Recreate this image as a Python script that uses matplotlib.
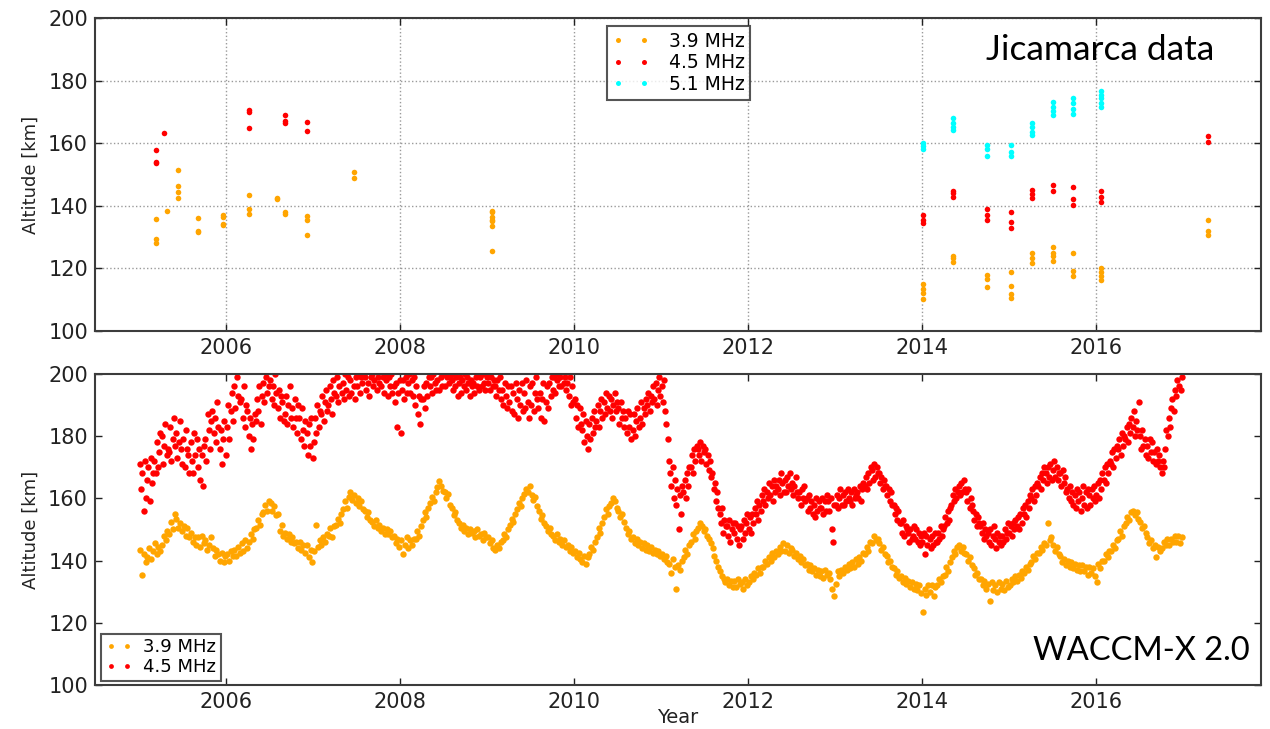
import numpy as np
import matplotlib.pyplot as plt

# ---- Jicamarca campaign estimates (decimal year, altitude in km) ----
jro39_year = [2005.19, 2005.19, 2005.19, 2005.32, 2005.44, 2005.44, 2005.44, 2005.44,
              2005.68, 2005.68, 2005.68, 2005.96, 2005.96, 2005.96, 2005.96,
              2006.26, 2006.26, 2006.26, 2006.58, 2006.58, 2006.68, 2006.68,
              2006.93, 2006.93, 2006.93, 2007.47, 2007.47,
              2009.06, 2009.06, 2009.06, 2009.06, 2009.06, 2009.06, 2009.06,
              2014.01, 2014.01, 2014.01, 2014.01, 2014.36, 2014.36, 2014.36,
              2014.75, 2014.75, 2014.75, 2015.02, 2015.02, 2015.02, 2015.02,
              2015.27, 2015.27, 2015.27, 2015.51, 2015.51, 2015.51, 2015.51,
              2015.74, 2015.74, 2015.74, 2016.06, 2016.06, 2016.06, 2016.06,
              2017.29, 2017.29, 2017.29]
jro39_alt = [135.8, 129.3, 128.2, 138.4, 151.3, 146.3, 144.3, 142.4,
             136.1, 131.9, 131.5, 136.9, 136.4, 134.1, 133.9,
             143.4, 139.1, 137.3, 142.6, 142.1, 138.1, 137.3,
             136.7, 135.4, 130.7, 150.8, 148.8,
             138.2, 138.0, 136.4, 135.5, 135.0, 133.5, 125.5,
             115.0, 113.3, 112.0, 110.1, 124.0, 123.2, 122.1,
             117.9, 116.5, 114.2, 119.0, 114.4, 111.9, 110.4,
             124.8, 123.2, 121.8, 126.9, 125.0, 124.0, 122.5,
             125.0, 119.3, 117.6, 120.1, 118.7, 117.5, 116.4,
             135.6, 131.9, 130.8]

jro45_year = [2005.19, 2005.19, 2005.19, 2005.28, 2006.26, 2006.26, 2006.26,
              2006.68, 2006.68, 2006.68, 2006.93, 2006.93,
              2014.01, 2014.01, 2014.01, 2014.36, 2014.36, 2014.36,
              2014.75, 2014.75, 2014.75, 2015.02, 2015.02, 2015.02,
              2015.27, 2015.27, 2015.27, 2015.51, 2015.51,
              2015.74, 2015.74, 2015.74, 2016.06, 2016.06, 2016.06,
              2017.29, 2017.29]
jro45_alt = [157.7, 154.0, 153.6, 163.4, 170.5, 170.1, 164.9,
             169.0, 167.1, 166.4, 166.8, 163.8,
             137.1, 135.5, 134.6, 144.8, 144.0, 142.9,
             139.0, 137.1, 135.5, 137.9, 134.9, 132.9,
             145.0, 143.7, 142.6, 146.6, 144.8,
             146.0, 142.3, 140.4, 144.8, 142.9, 141.3,
             162.3, 160.5]

jro51_year = [2014.01, 2014.01, 2014.01, 2014.36, 2014.36, 2014.36, 2014.36,
              2014.75, 2014.75, 2014.75, 2015.02, 2015.02, 2015.02,
              2015.27, 2015.27, 2015.27, 2015.27, 2015.51, 2015.51, 2015.51, 2015.51,
              2015.74, 2015.74, 2015.74, 2015.74,
              2016.06, 2016.06, 2016.06, 2016.06, 2016.06]
jro51_alt = [160.0, 159.0, 158.0, 168.0, 166.5, 165.2, 164.2,
             159.5, 158.2, 156.0, 159.5, 157.3, 155.9,
             166.3, 165.2, 163.6, 162.5, 173.2, 171.6, 170.2, 168.9,
             174.5, 172.7, 171.0, 169.2,
             176.7, 175.5, 174.3, 173.0, 171.6]

# ---- WACCM-X 2.0 reflection heights, sampled evenly through each year ----
model_years = list(range(2005, 2017))

w39_2005 = [143.5, 135.5, 142, 139.5, 141, 144, 140.5, 143, 145.5, 142, 144.5, 143,
            145, 148, 146.5, 149.5, 148.5, 152.5, 150, 155, 153.5, 150.5, 152, 149.5,
            151, 148, 150.5, 147.5, 149, 146, 147.5, 145, 147.5, 144.5, 148, 145.5,
            146.5, 143.5, 145, 147.5, 144, 141.5, 143.5, 142, 140, 142.5, 139.5, 141.5]
w39_2006 = [142, 140, 143, 141.5, 143.5, 141.5, 144.5, 142.5, 145.5, 143, 146.5, 144,
            146, 148.5, 147, 150, 150.5, 153, 151.5, 155, 155.5, 158, 156, 159,
            158.5, 156, 157.5, 154.5, 155, 149.5, 151.5, 148, 149, 147, 148.5, 146,
            147.5, 145.5, 146, 144, 146, 143.5, 145, 142.5, 145, 141, 143.5, 139.5]
w39_2007 = [143, 151.5, 144.5, 146.5, 145, 147.5, 146, 148.5, 148, 150.5, 147.5, 151,
            151.5, 153.5, 152, 155, 156.5, 159, 157, 160.5, 162, 159.5, 161, 158.5,
            160, 157.5, 159, 156.5, 156, 154, 155.5, 153, 152.5, 151, 153, 150.5,
            151.5, 149.5, 150.5, 148.5, 150, 148.5, 149.5, 147.5, 148, 145.5, 147, 144.5]
w39_2008 = [146.5, 142, 145, 147.5, 144, 146.5, 145, 147, 147, 149.5, 148, 151,
            153, 155.5, 154, 157, 158.5, 160.5, 159, 162, 163.5, 165.5, 164, 162.5,
            162, 160, 161.5, 158, 157, 154.5, 155.5, 153, 152, 150.5, 151.5, 149.5,
            150.5, 148.5, 150, 149, 149.5, 147.5, 150, 148, 148.5, 146.5, 149, 147.5]
w39_2009 = [147.5, 145.5, 146.5, 144, 143.5, 145, 144, 146, 146.5, 148.5, 147.5, 150,
            151.5, 153.5, 152.5, 155, 156.5, 158.5, 157.5, 160, 161.5, 163, 162, 164,
            161, 159.5, 160.5, 157.5, 156, 153.5, 154.5, 152, 151, 149.5, 150.5, 148.5,
            148, 146.5, 148.5, 146, 147, 145, 146.5, 144.5, 145, 143, 144.5, 142.5]
w39_2010 = [143, 141, 142.5, 140.5, 139.5, 141.5, 139, 141, 142, 144.5, 143.5, 146,
            147.5, 150.5, 149, 152, 154, 156.5, 155, 157.5, 158.5, 160, 159, 157,
            156, 154, 155, 152.5, 150.5, 148.5, 149.5, 147, 147.5, 145.5, 147, 145,
            146, 144, 145.5, 143.5, 145, 143, 144.5, 142.5, 143.5, 142, 143, 141.5]
w39_2011 = [142, 140.5, 141.5, 139.5, 139, 136, 140.5, 138, 131, 138.5, 137, 140,
            141, 143.5, 142, 145, 146, 148.5, 147, 149.5, 150.5, 152, 151, 149.5,
            150, 148, 147, 145.5, 144, 141.5, 140, 138, 136.5, 135, 134, 133,
            134, 132, 133.5, 131.5, 133.5, 131.5, 134, 132.5, 133, 131, 134, 132]
w39_2012 = [133, 135, 134, 136, 135.5, 137.5, 136, 138, 138, 140, 139, 141,
            140, 142.5, 141, 143, 142, 144.5, 143, 145.5, 143, 145, 142.5, 144,
            143.5, 141.5, 142.5, 140.5, 141.5, 139.5, 140.5, 138.5, 139, 137, 138.5, 136.5,
            137.5, 135.5, 137, 135, 136.5, 134.5, 137, 135.5, 136, 134, 131, 128.5]
w39_2013 = [132.5, 136.5, 135, 137, 136, 138, 137, 139, 137.5, 139.5, 138, 140.5,
            139, 141, 140, 142.5, 142, 144.5, 143, 146, 145.5, 148, 146.5, 147,
            145.5, 143.5, 144.5, 142, 141.5, 139.5, 140, 138, 137.5, 135.5, 136.5, 134.5,
            135, 133, 134.5, 132.5, 133.5, 131.5, 133, 131, 132.5, 130.5, 132, 129.5]
w39_2014 = [123.5, 131, 129, 132, 130, 132, 128.5, 131.5, 132, 134, 133, 135,
            135.5, 138, 136.5, 139.5, 141, 143, 142, 144.5, 145, 143, 144.5, 142.5,
            142, 140, 141, 138.5, 137.5, 135.5, 136, 134, 134, 132, 133.5, 131,
            132.5, 127, 133, 130.5, 132, 130, 133, 131, 132.5, 130.5, 133.5, 131.5]
w39_2015 = [132, 134, 133, 135, 133.5, 135.5, 134.5, 136.5, 136, 138, 137, 139,
            139.5, 141.5, 140.5, 142.5, 142.5, 144.5, 143.5, 145.5, 145, 152, 146.5, 147.5,
            145, 143, 144.5, 142, 141.5, 139.5, 140.5, 138.5, 140, 138, 139.5, 137.5,
            139, 137, 138.5, 136.5, 138.5, 136.5, 138, 135.5, 138, 136, 137.5, 135]
w39_2016 = [133, 139, 137.5, 140, 140, 142, 141, 143, 143, 145, 144, 146.5,
            147, 149.5, 148, 151, 152, 154, 153, 155.5, 156, 154.5, 155.5, 153.5,
            152.5, 150.5, 151, 149, 147.5, 145.5, 146.5, 144, 145, 141, 144.5, 143,
            144, 146, 145, 147, 145, 147, 146, 148, 146, 148, 145.5, 147.5]

w45_2005 = [171, 163, 168, 156, 172, 160, 166, 170, 159, 173, 165, 168,
            172, 168, 178, 170, 175, 181, 180, 171, 177, 184, 174, 176,
            175, 183, 172, 179, 186, 177, 181, 173, 178, 185, 176, 171,
            179, 170, 182, 176, 174, 168, 178, 172, 168, 181, 174, 179,
            170, 176, 166, 174, 164, 177, 179, 172, 187, 182, 176, 185,
            188, 181, 186, 178, 191, 183, 176, 182, 171, 179, 185, 174]
w45_2006 = [183, 190, 179, 188, 194, 185, 196, 189, 199, 193, 201, 191,
            192, 186, 196, 183, 190, 188, 180, 186, 176, 184, 179, 187,
            185, 192, 188, 196, 184, 193, 197, 191, 199, 194, 202, 196,
            198, 192, 196, 190, 200, 194, 189, 195, 186, 193, 191, 185,
            187, 193, 184, 190, 196, 186, 189, 183, 192, 186, 181, 190,
            186, 179, 189, 182, 177, 185, 181, 174, 184, 177, 186, 173]
w45_2007 = [178, 186, 181, 190, 183, 188, 187, 193, 185, 191, 195, 188,
            190, 196, 192, 187, 198, 194, 193, 199, 191, 196, 201, 194,
            197, 192, 200, 195, 199, 193, 198, 194, 201, 196, 192, 199,
            196, 200, 194, 199, 197, 202, 199, 195, 201, 197, 193, 199,
            200, 196, 198, 202, 195, 199, 197, 201, 196, 199, 194, 200,
            198, 193, 199, 196, 200, 194, 196, 191, 197, 183, 194, 198]
w45_2008 = [181, 195, 198, 192, 199, 194, 197, 200, 194, 198, 193, 199,
            190, 196, 187, 193, 184, 192, 192, 196, 189, 197, 193, 199,
            196, 199, 194, 200, 197, 195, 198, 201, 195, 199, 196, 200,
            200, 196, 199, 202, 197, 199, 198, 195, 200, 196, 199, 193,
            197, 199, 194, 198, 196, 200, 195, 199, 197, 193, 198, 196,
            197, 194, 199, 196, 200, 195, 199, 196, 200, 197, 195, 199]
w45_2009 = [197, 200, 195, 199, 196, 198, 196, 193, 198, 195, 199, 192,
            195, 190, 197, 193, 189, 196, 191, 196, 188, 194, 187, 197,
            192, 186, 195, 190, 197, 188, 194, 189, 198, 191, 186, 196,
            190, 197, 188, 194, 199, 192, 189, 194, 186, 192, 197, 185,
            191, 196, 189, 197, 193, 199, 195, 199, 194, 198, 200, 196,
            199, 196, 201, 197, 199, 195, 197, 193, 199, 190, 196, 191]
w45_2010 = [192, 186, 190, 183, 189, 184, 182, 187, 178, 185, 180, 176,
            184, 179, 186, 181, 188, 183, 185, 190, 183, 188, 192, 186,
            191, 187, 194, 189, 193, 188, 192, 186, 190, 194, 188, 191,
            189, 184, 191, 186, 188, 183, 186, 181, 188, 183, 187, 179,
            182, 187, 180, 185, 189, 183, 186, 191, 184, 189, 187, 192,
            190, 194, 188, 193, 191, 196, 192, 197, 190, 195, 199, 193]
w45_2011 = [196, 191, 198, 188, 184, 179, 172, 168, 164, 170, 160, 166,
            158, 163, 150, 161, 155, 164, 162, 166, 160, 168, 164, 170,
            170, 174, 168, 176, 172, 177, 176, 174, 178, 172, 177, 175,
            176, 171, 174, 169, 172, 167, 168, 163, 165, 159, 162, 157,
            155, 152, 157, 149, 153, 151, 151, 148, 153, 146, 150, 152,
            149, 152, 147, 151, 145, 150, 151, 147, 153, 149, 152, 155]
w45_2012 = [150, 154, 149, 155, 152, 157, 155, 159, 153, 158, 156, 161,
            159, 163, 158, 162, 160, 165, 161, 164, 159, 166, 162, 164,
            163, 166, 161, 168, 165, 162, 166, 162, 167, 164, 168, 163,
            165, 161, 164, 167, 162, 160, 162, 158, 163, 160, 164, 159,
            160, 156, 161, 157, 159, 155, 158, 154, 160, 156, 159, 157,
            157, 160, 155, 159, 156, 161, 159, 156, 160, 150, 146, 158]
w45_2013 = [158, 161, 157, 160, 163, 158, 161, 158, 162, 159, 163, 160,
            159, 162, 158, 163, 160, 161, 162, 160, 164, 159, 163, 165,
            164, 167, 163, 168, 165, 170, 169, 166, 171, 167, 170, 168,
            168, 165, 167, 163, 166, 164, 164, 161, 163, 159, 162, 158,
            158, 155, 157, 153, 156, 152, 152, 149, 153, 148, 151, 150,
            149, 146, 150, 147, 148, 151, 147, 150, 146, 149, 145, 148]
w45_2014 = [146, 149, 142, 148, 145, 150, 147, 144, 148, 145, 149, 146,
            146, 149, 147, 151, 148, 150, 151, 154, 152, 156, 153, 157,
            158, 161, 159, 163, 160, 162, 164, 161, 165, 162, 166, 163,
            162, 159, 163, 157, 160, 158, 156, 153, 155, 151, 154, 152,
            151, 149, 152, 147, 150, 148, 149, 146, 150, 145, 148, 151,
            147, 144, 149, 146, 148, 145, 148, 146, 150, 147, 149, 152]
w45_2015 = [149, 151, 148, 152, 150, 153, 151, 154, 150, 155, 152, 157,
            155, 158, 154, 159, 157, 161, 160, 163, 159, 164, 161, 165,
            164, 167, 163, 168, 166, 170, 168, 165, 170, 167, 171, 166,
            169, 172, 167, 170, 166, 168, 168, 164, 169, 165, 167, 162,
            163, 160, 164, 159, 162, 158, 161, 157, 163, 159, 162, 156,
            160, 164, 158, 162, 157, 163, 161, 158, 163, 160, 164, 159]
w45_2016 = [161, 165, 160, 166, 163, 168, 166, 170, 165, 171, 168, 172,
            171, 175, 170, 176, 173, 177, 176, 179, 174, 181, 177, 180,
            179, 183, 178, 184, 181, 186, 183, 188, 180, 185, 182, 191,
            180, 176, 182, 177, 179, 174, 177, 173, 179, 175, 178, 172,
            175, 171, 176, 172, 174, 170, 168, 172, 170, 176, 182, 180,
            186, 183, 189, 192, 188, 195, 193, 198, 196, 201, 195, 199]

w39_by_year = [w39_2005, w39_2006, w39_2007, w39_2008, w39_2009, w39_2010,
               w39_2011, w39_2012, w39_2013, w39_2014, w39_2015, w39_2016]
w45_by_year = [w45_2005, w45_2006, w45_2007, w45_2008, w45_2009, w45_2010,
               w45_2011, w45_2012, w45_2013, w45_2014, w45_2015, w45_2016]

freq_labels = ['3.9 MHz', '4.5 MHz', '5.1 MHz']
freq_colors = ['orange', 'red', 'cyan']
year_ticks = [2006, 2008, 2010, 2012, 2014, 2016]
alt_ticks = [100, 120, 140, 160, 180, 200]


def spread_over_years(years, chunks):
    # place each year's samples at evenly spaced times within that year
    t, v = [], []
    for yr, vals in zip(years, chunks):
        n = len(vals)
        t.extend(yr + (np.arange(n) + 0.5) / n)
        v.extend(vals)
    return np.array(t), np.array(v)


def style_axes(ax):
    ax.set_xlim(2004.49, 2017.9)
    ax.set_ylim(100, 200)
    ax.set_xticks(year_ticks)
    ax.set_yticks(alt_ticks)
    ax.tick_params(direction='in', top=True, right=True, length=5, width=1,
                   labelsize=15, pad=5, colors='#222222')
    for sp in ax.spines.values():
        sp.set_linewidth(1.5)
        sp.set_color('#3c3c3c')
    ax.set_ylabel('Altitude [km]', fontsize=13, color='#222222')
    ax.yaxis.set_label_coords(-0.047, 0.5)


fig = plt.figure(figsize=(12.7, 7.29), dpi=100)
fig.patch.set_facecolor('white')

# top: radar observations
ax1 = fig.add_axes([0.0748, 0.5460, 0.9181, 0.4293])
for yr, alt, c, lab in zip([jro39_year, jro45_year, jro51_year],
                           [jro39_alt, jro45_alt, jro51_alt],
                           freq_colors, freq_labels):
    ax1.plot(yr, alt, 'o', color=c, ms=4, mew=0, label=lab)
style_axes(ax1)
ax1.grid(True, linestyle=':', color='#9a9a9a', linewidth=1)
leg1 = ax1.legend(loc='upper left', bbox_to_anchor=(0.439, 0.974), numpoints=2,
                  fontsize=13.5, frameon=True, fancybox=False, borderaxespad=0,
                  handlelength=2.0, handletextpad=1.0, labelspacing=0.14,
                  borderpad=0.3, markerscale=0.9)
leg1.get_frame().set_edgecolor('#2a2a2a')
leg1.get_frame().set_linewidth(1.5)

# bottom: model
ax2 = fig.add_axes([0.0748, 0.0604, 0.9181, 0.4266])
t39, a39 = spread_over_years(model_years, w39_by_year)
t45, a45 = spread_over_years(model_years, w45_by_year)
ax2.plot(t39, a39, 'o', color='orange', ms=4.6, mew=0, label=freq_labels[0])
ax2.plot(t45, a45, 'o', color='red', ms=4.6, mew=0, label=freq_labels[1])
style_axes(ax2)
ax2.set_xlabel('Year', fontsize=14, color='#222222')
ax2.xaxis.set_label_coords(0.5, -0.075)
leg2 = ax2.legend(loc='lower left', bbox_to_anchor=(0.005, 0.013), numpoints=2,
                  fontsize=13, frameon=True, fancybox=False, borderaxespad=0,
                  handlelength=1.5, handletextpad=0.6, labelspacing=0.12,
                  borderpad=0.25, markerscale=0.75)
leg2.get_frame().set_edgecolor('#2a2a2a')
leg2.get_frame().set_linewidth(1.5)

# panel captions
fig.text(1214 / 1270, 1 - 60 / 729, 'Jicamarca data', ha='right', va='baseline',
         fontsize=25.5, family='Lato', color='black')
fig.text(1250 / 1270, 1 - 660 / 729, 'WACCM-X 2.0', ha='right', va='baseline',
         fontsize=23.5, family='Lato', color='black')

fig.savefig('out.png', dpi=100, facecolor='white')
